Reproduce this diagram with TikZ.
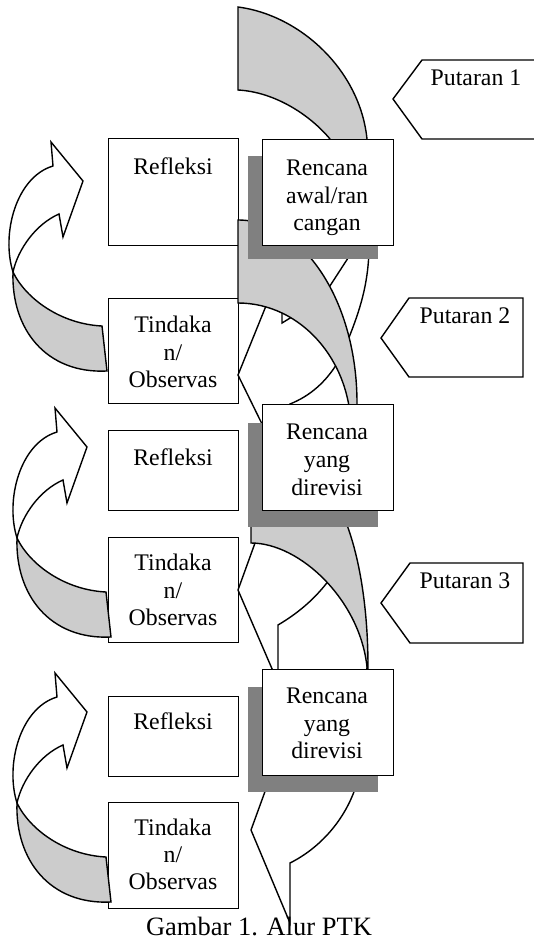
\documentclass[tikz,border=0pt]{standalone}
\usepackage{fontspec}
\setmainfont{Liberation Serif}
\definecolor{bandgrey}{HTML}{CCCCCC}
\definecolor{shadowgrey}{HTML}{808080}
\newcommand{\ptkloop}[2]{%
  \begin{scope}[shift={#1}]
    \draw[fill=white] (57,697) -- (55,673) -- (87,712) -- (67,768) -- (63,745)
      .. controls (40,755) and (22,780) .. (17,803)
      .. controls (5,765) and (20,708) .. (57,697) -- cycle;
    \draw[fill=bandgrey] (17,803) .. controls (30,830) and (65,855) .. (106,857)
      -- (111,902) .. controls (50,905) and (15,860) .. (17,803) -- cycle;
    \coordinate (#2) at (87,712);
  \end{scope}}
\begin{document}
\begin{tikzpicture}[x=1pt,y=-1pt,line width=1.4pt,line join=miter]
\tikzset{
  box/.style={draw=black,fill=white,line width=1.4pt,inner sep=0pt,anchor=north west,minimum width=130,minimum height=#1},
  rbox/.style={draw=black,fill=white,line width=1.4pt,inner sep=0pt,anchor=north west,minimum width=131,minimum height=106},
  shadowbox/.style={fill=shadowgrey,draw=none,inner sep=0pt,anchor=north west,minimum width=130,minimum height=#1},
  band/.style={draw=black,fill=bandgrey,line width=1.4pt},
  arrline/.style={draw=black,line width=1.4pt},
  tag/.style={draw=black,fill=white,line width=1.4pt},
  txt/.style={font=\fontsize{23.8}{27.5}\selectfont,inner sep=0pt,anchor=base},
  captxt/.style={font=\fontsize{26.5}{30}\selectfont,inner sep=0pt,anchor=base}
}
\fill[white] (0,0) rectangle (533,942);
\useasboundingbox (0,0) rectangle (533,942);

% left boxes
\node[box=107] (r1) at (108,138) {};
\node[box=105] (t1) at (108,298) {};
\node[box=80]  (r2) at (108,430) {};
\node[box=105] (t2) at (108,537) {};
\node[box=80]  (r3) at (108,696) {};
\node[box=106] (t3) at (108,802) {};

% right (white) curved arrows, visible parts
\draw[arrline] (270,296) -- (238,375) -- (263,426);
\draw[arrline] (286,410) -- (290,404) .. controls (310,396) and (326,382) .. (338,362);
\draw[arrline] (348,340) .. controls (360,310) and (368,285) .. (369,250);
\draw[arrline] (326,292) -- (350,255);
\draw[arrline] (282,300) -- (282,323) -- (300,312);

\draw[arrline] (259,532) -- (238,590) -- (276,678);
\draw[arrline] (278,680) -- (278,625) .. controls (300,612) and (320,595) .. (336,570);

\draw[arrline] (267,786) -- (251,830) -- (290,923) -- (290,863)
  .. controls (320,848) and (345,820) .. (356,786);

% grey bands
\draw[band] (238,7) .. controls (300,15) and (360,70) .. (367,139) -- (367,150)
  -- (332,150) -- (330,139) .. controls (310,115) and (275,92) .. (238,90) -- cycle;
\draw[band] (238,220) .. controls (303.7,220) and (357,301.9) .. (357,403) -- (357,430)
  -- (351,430) .. controls (351,359.9) and (300.4,303) .. (238,303) -- cycle;
\draw[band] (251,510) -- (343,510) -- (347,525) .. controls (360,560) and (368,610) .. (368,667)
  -- (368,680) -- (366,680) -- (367,667) .. controls (360,600) and (300,543) .. (251,543) -- cycle;

% shadows and plan boxes
\node[shadowbox=103] (s1) at (247,155) {};
\node[rbox] (p1) at (262,139) {};
\node[shadowbox=104] (s2) at (247,422) {};
\node[rbox] (p2) at (262,404) {};
\node[shadowbox=105] (s3) at (247,686) {};
\node[rbox] (p3) at (262,669) {};

% Putaran tags
\draw[tag] (545,60) -- (422,60) -- (393,99) -- (422,139) -- (545,139);
\draw[tag] (523,298) -- (409,298) -- (381,338) -- (409,377) -- (523,377) -- cycle;
\draw[tag] (523,563) -- (410,563) -- (381,603) -- (410,643) -- (523,643) -- cycle;

% left curved arrows
\ptkloop{(-4,-531)}{la1}
\ptkloop{(0,-265)}{la2}
\ptkloop{(0,0)}{la3}

% texts
\node[txt] (tr1) at (173,174) {Refleksi};
\node[txt] (tr2) at (173,465) {Refleksi};
\node[txt] (tr3) at (173,729) {Refleksi};
\node[txt] (tt1a) at (173,332) {Tindaka};
\node[txt] (tt1b) at (173,360) {n/};
\node[txt] (tt1c) at (173,387) {Observas};
\node[txt] (tt2a) at (173,570) {Tindaka};
\node[txt] (tt2b) at (173,598) {n/};
\node[txt] (tt2c) at (173,625) {Observas};
\node[txt] (tt3a) at (173,835) {Tindaka};
\node[txt] (tt3b) at (173,862) {n/};
\node[txt] (tt3c) at (173,889) {Observas};
\node[txt] (tp1a) at (327,175) {Rencana};
\node[txt] (tp1b) at (327,203) {awal/ran};
\node[txt] (tp1c) at (327,230) {cangan};
\node[txt] (tp2a) at (327,439) {Rencana};
\node[txt] (tp2b) at (327,467) {yang};
\node[txt] (tp2c) at (327,495) {direvisi};
\node[txt] (tp3a) at (327,703) {Rencana};
\node[txt] (tp3b) at (327,731) {yang};
\node[txt] (tp3c) at (327,758) {direvisi};
\node[txt] (pu1) at (476,85) {Putaran 1};
\node[txt] (pu2) at (465,323) {Putaran 2};
\node[txt] (pu3) at (465,588) {Putaran 3};
\node[captxt] (caption) at (259,935) {Gambar 1. Alur PTK};
\end{tikzpicture}
\end{document}
